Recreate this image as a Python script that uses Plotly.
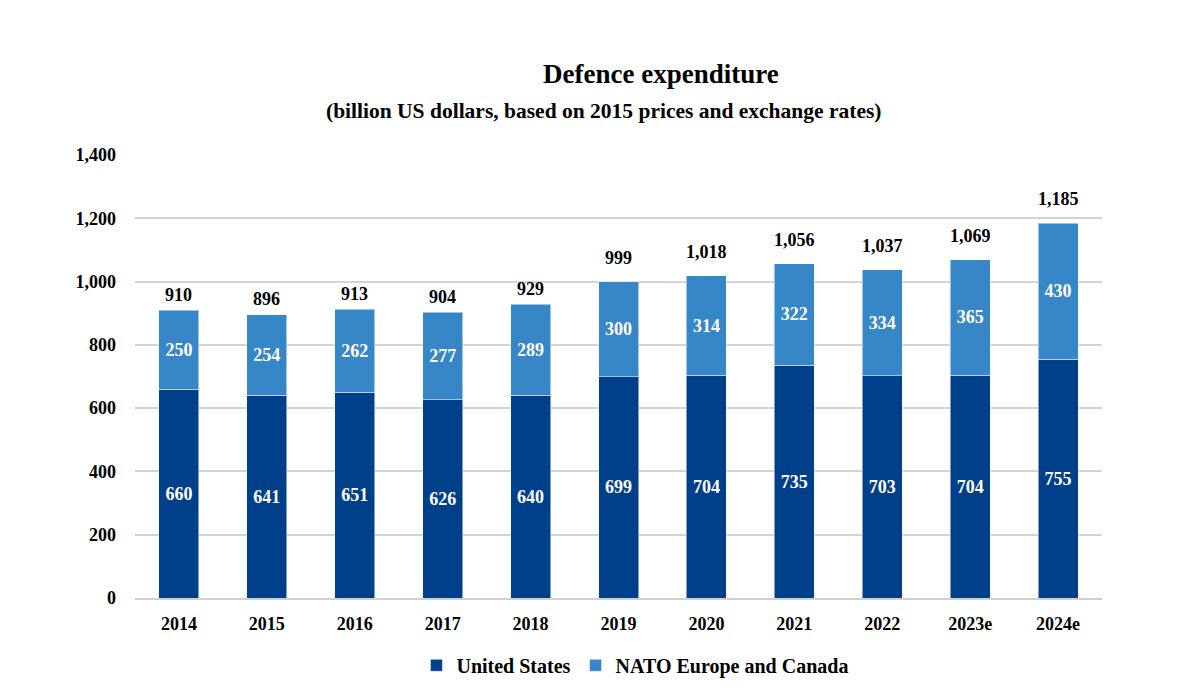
import plotly.graph_objects as go

years = ["2014", "2015", "2016", "2017", "2018", "2019", "2020", "2021", "2022", "2023e", "2024e"]
us = [660, 641, 651, 626, 640, 699, 704, 735, 703, 704, 755]
europe_canada = [250, 254, 262, 277, 289, 300, 314, 322, 334, 365, 430]
totals = [910, 896, 913, 904, 929, 999, 1018, 1056, 1037, 1069, 1185]
y_ticks = [0, 200, 400, 600, 800, 1000, 1200, 1400]

# style: extra lift (px) of the total labels, as in the reference
total_label_lift = [3, 3, 3, 3, 3, 12, 12, 12, 12, 12, 12]

FONT = "Liberation Serif"
DARK = "#003F8A"
LIGHT = "#3787C8"

fig = go.Figure()
fig.add_trace(go.Bar(
    x=years, y=us, name="United States",
    marker=dict(color=DARK, line=dict(color="rgba(255,255,255,0.5)", width=1)),
    text=[str(v) for v in us], textposition="inside", insidetextanchor="middle",
    textfont=dict(family=FONT, size=18, color="white"),
    hoverinfo="skip",
))
fig.add_trace(go.Bar(
    x=years, y=europe_canada, name="NATO Europe and Canada",
    marker=dict(color=LIGHT, line=dict(color="rgba(255,255,255,0.5)", width=1)),
    text=[str(v) for v in europe_canada], textposition="inside", insidetextanchor="middle",
    textfont=dict(family=FONT, size=18, color="white"),
    hoverinfo="skip",
))

for i, (tot, lift) in enumerate(zip(totals, total_label_lift)):
    fig.add_annotation(x=i, y=tot, xref="x", yref="y", text=f"<b>{tot:,}</b>", showarrow=False,
                       xanchor="center", yanchor="bottom", yshift=lift,
                       font=dict(family=FONT, size=18, color="black"))

# page offset of 8px (body margin) is compensated in the margins
fig.update_layout(
    width=1185, height=692,
    barmode="stack", bargap=0.545,
    plot_bgcolor="white", paper_bgcolor="white",
    margin=dict(l=127, r=91, t=147, b=102),
    font=dict(family=FONT, size=18, color="black", weight="bold"),
    uniformtext=dict(minsize=10, mode="show"),
    showlegend=True,
    legend=dict(orientation="h", x=0.517, xanchor="center", y=-0.152, yanchor="middle",
                font=dict(family=FONT, size=20, weight="bold"), traceorder="normal",
                itemwidth=30),
)

def px_to_paper(px, py):
    return (px - 135) / 967, (598 - py) / 443

tx, ty = px_to_paper(661, 74)
sx, sy = px_to_paper(603, 111)
fig.add_annotation(text="<b>Defence expenditure</b>", x=tx, y=ty, xref="paper", yref="paper",
                   xanchor="center", yanchor="middle", showarrow=False,
                   font=dict(family=FONT, size=27))
fig.add_annotation(text="<b>(billion US dollars, based on 2015 prices and exchange rates)</b>",
                   x=sx, y=sy, xref="paper", yref="paper", xanchor="center", yanchor="middle",
                   showarrow=False, font=dict(family=FONT, size=21.5))

fig.update_xaxes(type="category", categoryorder="array", categoryarray=years,
                 showgrid=False, showline=True, linecolor="#d0d0d0", linewidth=2,
                 ticks="", ticklabelstandoff=8,
                 tickfont=dict(family=FONT, size=18, weight="bold"))
fig.update_yaxes(range=[0, 1400], tickvals=y_ticks, tickformat=",", showgrid=True,
                 gridcolor="#d3d3d3", gridwidth=2, zeroline=False, showline=False, ticks="",
                 ticklabelstandoff=18,
                 tickfont=dict(family=FONT, size=18, weight="bold"))

fig.write_html("out.html")
